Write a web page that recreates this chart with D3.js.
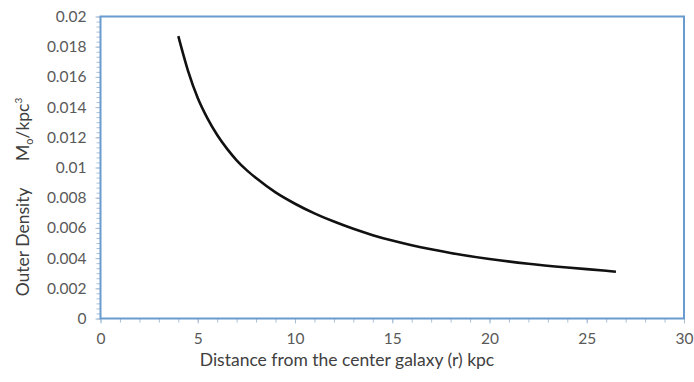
<!DOCTYPE html>
<html>
<head>
<meta charset="utf-8">
<script src="https://cdn.jsdelivr.net/npm/d3@7"></script>
<style>
  body { margin: 0; background: #fff; }
  svg { display: block; }
  .tick text { font-family: Lato, "Open Sans", sans-serif; font-size: 15.5px; fill: #595959; }
</style>
</head>
<body>
<div id="chart"></div>
<script>
// distance from center (kpc) and outer density (Msun/kpc^3)
var radius  = [4, 4.5, 5, 5.5, 6, 6.5, 7, 7.5, 8, 9, 10, 11, 12, 13, 14, 15, 16, 17, 18, 20, 22, 24, 26, 26.5];
var density = [0.0187, 0.0164, 0.0146, 0.01325, 0.01215, 0.01125, 0.01048, 0.00984, 0.0093, 0.00835, 0.0076,
               0.00696, 0.00642, 0.00594, 0.00552, 0.00516, 0.00485, 0.00458, 0.00434, 0.00394, 0.00363,
               0.00338, 0.00316, 0.0031];

var xTicks = [0, 5, 10, 15, 20, 25, 30];
var yTicks = [0, 0.002, 0.004, 0.006, 0.008, 0.01, 0.012, 0.014, 0.016, 0.018, 0.02];
var yTickLabels = ["0", "0.002", "0.004", "0.006", "0.008", "0.01", "0.012", "0.014", "0.016", "0.018", "0.02"];
var xMinorTicks = d3.range(0, 31, 1);
var yMinorTicks = d3.range(0, 61).map(function (i) { return i * 0.02 / 60; });

var svg = d3.select("#chart").append("svg")
    .attr("width", 694)
    .attr("height", 382);

var margin = {top: 16.5, right: 10, bottom: 63.5, left: 100.5},
    width = 694 - margin.left - margin.right,
    height = 382 - margin.top - margin.bottom,
    g = svg.append("g").attr("transform", "translate(" + margin.left + "," + margin.top + ")");

var x = d3.scaleLinear().domain([0, 30]).range([0, width]);
var y = d3.scaleLinear().domain([0, 0.02]).range([height, 0]);

var axisColor = "#6a9bcf";

// minor ticks
g.append("g")
    .attr("transform", "translate(0," + height + ")")
    .call(d3.axisBottom(x).tickValues(xMinorTicks).tickSize(4).tickFormat(""))
    .call(function (a) { a.select(".domain").remove(); a.selectAll("line").attr("stroke", "#a8bfd8"); });

g.append("g")
    .call(d3.axisLeft(y).tickValues(yMinorTicks).tickSize(4).tickFormat(""))
    .call(function (a) { a.select(".domain").remove(); a.selectAll("line").attr("stroke", "#a8bfd8"); });

// major tick labels
g.append("g")
    .attr("transform", "translate(0," + height + ")")
    .call(d3.axisBottom(x).tickValues(xTicks).tickSize(5).tickPadding(9))
    .call(function (a) { a.select(".domain").remove(); a.selectAll("line").attr("stroke", "#a8bfd8"); });

g.append("g")
    .call(d3.axisLeft(y).tickValues(yTicks).tickSize(5).tickPadding(9)
        .tickFormat(function (d, i) { return yTickLabels[i]; }))
    .call(function (a) { a.select(".domain").remove(); a.selectAll("line").attr("stroke", "#a8bfd8"); });

// plot border
g.append("rect")
    .attr("x", 0)
    .attr("y", 0)
    .attr("width", width)
    .attr("height", height)
    .attr("fill", "none")
    .attr("stroke", axisColor)
    .attr("stroke-width", 2);

var line = d3.line()
    .curve(d3.curveMonotoneX)
    .x(function (d, i) { return x(radius[i]); })
    .y(function (d) { return y(d); });

g.append("path")
    .datum(density)
    .attr("fill", "none")
    .attr("stroke", "#111")
    .attr("stroke-width", 2.6)
    .attr("d", line);

// axis titles
svg.append("text")
    .attr("x", 347)
    .attr("y", 366)
    .attr("text-anchor", "middle")
    .style("font", "17.5px Lato, 'Open Sans', sans-serif")
    .attr("fill", "#404040")
    .text("Distance from the center galaxy (r) kpc");

var yTitle = svg.append("text")
    .attr("transform", "translate(29,197) rotate(-90)")
    .attr("text-anchor", "middle")
    .style("font", "17.5px Lato, 'Open Sans', sans-serif")
    .attr("fill", "#404040");
yTitle.append("tspan").text("Outer Density\u00a0\u00a0\u00a0\u00a0\u00a0\u00a0M");
yTitle.append("tspan").attr("dy", 4).style("font-size", "11px").text("o");
yTitle.append("tspan").attr("dy", -4).text("/kpc");
yTitle.append("tspan").attr("dy", -7).style("font-size", "10px").text("3");
</script>
</body>
</html>
